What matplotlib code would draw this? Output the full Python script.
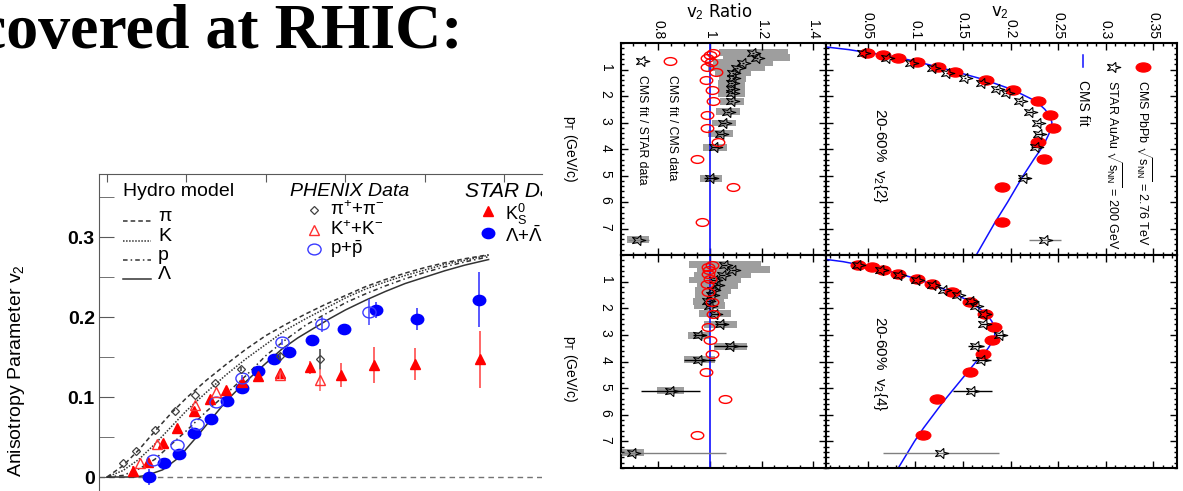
import numpy as np
import matplotlib as mpl
mpl.use('Agg')
import matplotlib.pyplot as plt
from matplotlib.path import Path
from matplotlib.patches import Rectangle
from matplotlib.ticker import MultipleLocator

plt.rcParams['font.family'] = ['Liberation Sans', 'DejaVu Sans']
plt.rcParams['mathtext.fontset'] = 'custom'
plt.rcParams['mathtext.rm'] = 'Liberation Sans'
plt.rcParams['mathtext.it'] = 'Liberation Sans:italic'
plt.rcParams['mathtext.bf'] = 'Liberation Sans:bold'

# ---------------- hydro + RHIC identified particle v2 ----------------
hydro_pt = [0.0, 0.2, 0.4, 0.6, 0.8, 1.0, 1.25, 1.5, 1.75, 2.0, 2.25, 2.5,
            2.75, 3.0, 3.25, 3.5, 3.75, 4.0, 4.25, 4.5, 4.8]
hydro_pi = [0.0, 0.014, 0.034, 0.057, 0.079, 0.099, 0.121, 0.141, 0.160, 0.177,
            0.191, 0.204, 0.216, 0.227, 0.238, 0.247, 0.255, 0.262, 0.268, 0.273, 0.278]
hydro_k = [0.0, 0.008, 0.022, 0.041, 0.062, 0.083, 0.106, 0.128, 0.148, 0.166,
           0.184, 0.198, 0.211, 0.224, 0.235, 0.244, 0.252, 0.259, 0.266, 0.271, 0.2775]
hydro_p = [0.0, 0.002, 0.010, 0.022, 0.040, 0.058, 0.082, 0.104, 0.127, 0.152,
           0.172, 0.190, 0.204, 0.218, 0.229, 0.239, 0.248, 0.256, 0.263, 0.269, 0.2755]
hydro_lam_pt = [0.0, 0.35, 0.5, 0.7, 0.9, 1.1, 1.3, 1.5, 1.7, 1.95, 2.2, 2.4, 2.6,
                2.8, 3.0, 3.25, 3.5, 3.75, 4.0, 4.25, 4.5, 4.8]
hydro_lam = [0.0, 0.0, 0.002, 0.009, 0.024, 0.047, 0.071, 0.095, 0.115, 0.138, 0.160,
             0.174, 0.186, 0.198, 0.209, 0.221, 0.232, 0.242, 0.250, 0.258, 0.265, 0.272]

pi_pt = [0.205, 0.365, 0.608, 0.855, 1.107, 1.358, 1.686, 2.176, 2.68]
pi_v2 = [0.018, 0.0325, 0.0588, 0.0825, 0.103, 0.117, 0.135, 0.151, 0.147]
pi_err = [0, 0, 0, 0, 0, 0, 0.003, 0.004, 0.0135]

kch_pt = [0.415, 0.633, 1.107, 1.365, 2.18, 2.68]
kch_v2 = [0.018, 0.041, 0.090, 0.106, 0.127, 0.121]
kch_err = [0, 0, 0, 0, 0.004, 0.0135]

ppbar_pt = [0.58, 0.876, 1.128, 1.367, 1.70, 2.205, 2.70, 3.30]
ppbar_v2 = [0.021, 0.040, 0.066, 0.094, 0.124, 0.169, 0.191, 0.2067]
ppbar_err = [0, 0, 0, 0, 0.003, 0.004, 0.009, 0.016]

k0s_pt = [0.331, 0.512, 0.709, 0.876, 1.099, 1.296, 1.493, 1.694, 1.895, 2.176,
          2.553, 2.94, 3.36, 3.874, 4.692]
k0s_v2 = [0.008, 0.019, 0.043, 0.061, 0.082, 0.097, 0.109, 0.119, 0.126, 0.130,
          0.137, 0.1275, 0.140, 0.1408, 0.147]
k0s_err = [0.006, 0.003, 0.002, 0.002, 0.002, 0.002, 0.003, 0.003, 0.003, 0.004,
           0.008, 0.015, 0.022, 0.020, 0.036]

lam_pt = [0.528, 0.721, 0.91, 1.099, 1.304, 1.505, 1.694, 1.895, 2.10, 2.293,
          2.575, 2.98, 3.38, 3.896, 4.683]
lam_v2 = [0.0, 0.018, 0.029, 0.0546, 0.0725, 0.0954, 0.111, 0.1325, 0.147, 0.156,
          0.171, 0.1846, 0.209, 0.198, 0.222]
lam_err = [0.010, 0.003, 0.002, 0.002, 0.002, 0.002, 0.002, 0.003, 0.003, 0.004,
           0.005, 0.007, 0.0104, 0.014, 0.034]

# ---------------- CMS vs STAR, 20-60% ----------------
cms_pt = [0.36, 0.45, 0.55, 0.70, 0.90, 1.10, 1.38, 1.76, 2.20, 2.71, 3.21, 3.72,
          4.39, 5.42, 6.75]
cms_v22 = [0.0486, 0.0661, 0.0819, 0.1012, 0.124, 0.1416, 0.1742, 0.2023, 0.2293,
           0.2416, 0.245, 0.229, 0.2353, 0.1907, 0.1907]
cms_v24 = [0.040, 0.054, 0.066, 0.082, 0.102, 0.117, 0.138, 0.157, 0.173, 0.183,
           0.181, 0.171, 0.157, 0.123, 0.108]
cms_ratio22 = [1.010, 1.000, 0.990, 1.003, 0.987, 1.022, 0.984, 1.006, 1.013, 0.987,
               0.990, 1.032, 0.951, 1.088, 0.968]
cms_ratio24 = [1.006, 0.993, 0.997, 0.993, 1.000, 0.990, 0.993, 1.006, 1.010, 0.993,
               1.000, 1.006, 0.984, 1.058, 0.951]

star_pt = [0.37, 0.56, 0.75, 0.94, 1.13, 1.33, 1.52, 1.73, 1.90, 2.20, 2.60, 3.02,
           3.43, 3.93, 5.10, 7.42]
star_v22 = [0.0444, 0.0697, 0.0949, 0.1187, 0.1328, 0.1521, 0.1697, 0.1855, 0.1967,
            0.210, 0.2205, 0.2293, 0.230, 0.2268, 0.2142, 0.2363]
star_v22_err = [0.001, 0.001, 0.001, 0.001, 0.001, 0.001, 0.001, 0.002, 0.002, 0.002,
                0.003, 0.003, 0.004, 0.005, 0.006, 0.017]
star_v24 = [0.0398, 0.0634, 0.083, 0.1019, 0.1181, 0.130, 0.145, 0.158, 0.164, 0.172,
            0.1725, 0.189, 0.1637, 0.1697, 0.160, 0.1265]
star_v24_err = [0.001, 0.001, 0.001, 0.001, 0.002, 0.002, 0.002, 0.002, 0.003, 0.003,
                0.004, 0.005, 0.008, 0.010, 0.021, 0.061]

star_ratio22 = [1.168, 1.181, 1.129, 1.104, 1.091, 1.088, 1.084, 1.084, 1.084, 1.084,
                1.071, 1.054, 1.041, 1.019, 1.003, 0.722]
star_ratio22_stat = [0.004, 0.004, 0.004, 0.004, 0.004, 0.004, 0.005, 0.005, 0.006,
                     0.007, 0.008, 0.010, 0.012, 0.015, 0.025, 0.040]
star_ratio22_sys = [0.133, 0.130, 0.117, 0.110, 0.070, 0.052, 0.052, 0.052, 0.052,
                    0.047, 0.047, 0.047, 0.047, 0.047, 0.043, 0.042]
star_ratio24 = [1.058, 1.091, 1.049, 1.019, 1.028, 1.013, 1.006, 0.993, 1.000, 1.019,
                1.041, 0.958, 1.080, 0.958, 0.847, 0.702]
star_ratio24_stat = [0.010, 0.010, 0.010, 0.010, 0.010, 0.010, 0.012, 0.012, 0.014,
                     0.016, 0.020, 0.025, 0.065, 0.060, 0.113, 0.360]
star_ratio24_sys = [0.140, 0.140, 0.110, 0.100, 0.080, 0.070, 0.065, 0.060, 0.060,
                    0.063, 0.065, 0.042, 0.065, 0.060, 0.054, 0.042]

fit22_pt = [0.15, 0.25, 0.36, 0.45, 0.55, 0.70, 0.90, 1.10, 1.38, 1.76, 2.20, 2.50,
            2.75, 3.00, 3.25, 3.50, 3.72, 4.00, 4.39, 5.00, 5.42, 6.00, 6.75, 7.50, 8.00]
fit22_v2 = [0.006, 0.030, 0.049, 0.066, 0.082, 0.101, 0.123, 0.144, 0.172, 0.202,
            0.227, 0.236, 0.2415, 0.2435, 0.2425, 0.2395, 0.2365, 0.232, 0.2245,
            0.2135, 0.2065, 0.197, 0.184, 0.172, 0.164]
fit24_pt = [0.16, 0.25, 0.36, 0.45, 0.55, 0.70, 0.90, 1.10, 1.38, 1.76, 2.20, 2.50,
            2.75, 3.00, 3.25, 3.50, 3.75, 4.00, 4.39, 5.00, 5.50, 6.00, 6.50, 7.00,
            7.50, 8.00]
fit24_v2 = [0.005, 0.024, 0.040, 0.054, 0.066, 0.082, 0.102, 0.117, 0.137, 0.158,
            0.1745, 0.1805, 0.183, 0.1835, 0.181, 0.1765, 0.171, 0.164, 0.155, 0.141,
            0.1295, 0.119, 0.1085, 0.099, 0.0905, 0.082]

W, H = 1183, 491


def fbox(x0, y0, x1, y1):
    # pixel box measured from the top-left corner -> figure fraction rect
    return [x0 / W, 1 - y1 / H, (x1 - x0) / W, (y1 - y0) / H]


def squash(path, sy):
    return Path(path.vertices * [1.0, sy], path.codes)


circ = Path.unit_circle()
ell_wide = squash(circ, 0.82)
ell_cms = squash(circ, 0.62)
st = Path.unit_regular_star(5, 0.42)
star_mk = Path(np.column_stack([st.vertices[:, 1], -st.vertices[:, 0] * 0.72]), st.codes)

fig = plt.figure(figsize=(W / 100, H / 100), dpi=100)
fig.text(-22 / W, 1 - 48 / H, 'covered at RHIC:', family='Liberation Serif',
         fontweight='bold', fontsize=46, ha='left', va='baseline')

# ================= left: hydro vs data =================
ax = fig.add_axes(fbox(99, 174, 542, 501))
ax.set_xlim(-0.1006, 5.472)
ax.set_ylim(-0.03, 0.379)
ax.axhline(0, color='0.45', lw=1, ls=(0, (4, 3)), zorder=1)

hc = '0.2'
ax.plot(hydro_pt, hydro_pi, color=hc, lw=1.1, ls=(0, (3, 2)))
ax.plot(hydro_pt, hydro_k, color=hc, lw=1.1, ls=(0, (1, 1)))
ax.plot(hydro_pt, hydro_p, color=hc, lw=1.1, ls=(0, (3, 2, 1, 2)))
ax.plot(hydro_lam_pt, hydro_lam, color=hc, lw=1.1, ls='-')

ax.errorbar(k0s_pt, k0s_v2, yerr=k0s_err, fmt='^', ms=7, color='red',
            ecolor='#ff5a5a', elinewidth=1.3, capsize=0, zorder=3)
ax.errorbar(lam_pt, lam_v2, yerr=lam_err, fmt='none', ecolor='#4a4aff',
            elinewidth=1.3, capsize=0, zorder=3)
ax.plot(lam_pt, lam_v2, ls='none', marker=ell_wide, ms=9, color='#0000ff', zorder=3)
ax.errorbar(pi_pt, pi_v2, yerr=pi_err, fmt='D', ms=4.5, mfc='none', mec='0.25',
            mew=0.9, ecolor='0.3', elinewidth=1.2, capsize=0, zorder=4)
ax.errorbar(kch_pt, kch_v2, yerr=kch_err, fmt='^', ms=7, mfc='none', mec='#ff3030',
            mew=1, ecolor='#ff6a6a', elinewidth=1.2, capsize=0, zorder=4)
ax.errorbar(ppbar_pt, ppbar_v2, yerr=ppbar_err, fmt='none', ecolor='#5050ff',
            elinewidth=1.2, capsize=0, zorder=4)
ax.plot(ppbar_pt, ppbar_v2, ls='none', marker=ell_wide, ms=9.5, mfc='none',
        mec='#3a3aff', mew=1, zorder=4)

# legend block, drawn by hand so that it is cut at the panel edge
tA = ax.transAxes
ax.text(0.054, 0.945, 'Hydro model', transform=tA, fontsize=14, va='center', clip_on=True)
ax.text(0.431, 0.945, 'PHENIX Data', transform=tA, fontsize=14, style='italic',
        va='center', clip_on=True)
ax.text(0.826, 0.948, 'STAR Data', transform=tA, fontsize=15, style='italic',
        va='center', clip_on=True)
hydro_keys = [('π', (0, (3, 2)), 0.856), ('K', (0, (1, 1)), 0.795),
              ('p', (0, (3, 2, 1, 2)), 0.737), ('Λ', '-', 0.679)]
for lab, ls, yy in hydro_keys:
    ax.plot([0.054, 0.117], [yy, yy], transform=tA, color=hc, lw=1.1, ls=ls)
    ax.text(0.133, yy, lab, transform=tA, fontsize=14, va='baseline', clip_on=True)
ax.plot([0.485], [0.890], transform=tA, marker='D', ms=4.5, mfc='none', mec='0.25', mew=0.9)
ax.plot([0.485], [0.829], transform=tA, marker='^', ms=7, mfc='none', mec='#ff3030', mew=1)
ax.plot([0.485], [0.771], transform=tA, marker=ell_wide, ms=9.5, mfc='none', mec='#3a3aff', mew=1)
ax.text(0.521, 0.890, 'π$^{+}$+π$^{-}$', transform=tA, fontsize=13.5, va='center', clip_on=True)
ax.text(0.521, 0.829, 'K$^{+}$+K$^{-}$', transform=tA, fontsize=13.5, va='center', clip_on=True)
ax.text(0.521, 0.771, r'p+$\bar{\mathrm{p}}$', transform=tA, fontsize=13.5, va='center', clip_on=True)
ax.plot([0.878], [0.886], transform=tA, marker='^', ms=7, color='red', ls='none')
ax.plot([0.878], [0.820], transform=tA, marker=ell_wide, ms=9, color='#0000ff', ls='none')
ax.text(0.916, 0.876, r'K$^{0}_{\mathrm{S}}$', transform=tA, fontsize=13, va='center', clip_on=True)
ax.text(0.916, 0.812, r'Λ+$\bar{\Lambda}$', transform=tA, fontsize=13.5, va='center', clip_on=True)

for s in ['right', 'bottom']:
    ax.spines[s].set_visible(False)
for s in ['left', 'top']:
    ax.spines[s].set_color('0.35')
ax.xaxis.tick_top()
ax.set_xticks([0, 1, 2, 3, 4, 5])
ax.tick_params(axis='x', direction='in', length=6, color='0.35', labeltop=False)
ax.set_yticks([0, 0.1, 0.2, 0.3], ['0', '0.1', '0.2', '0.3'])
ax.yaxis.set_minor_locator(MultipleLocator(0.05))
ax.tick_params(axis='y', which='both', direction='in', length=11, color='0.35',
               labelsize=14, pad=3)
for t in ax.get_yticklabels():
    t.set_fontweight('bold')
ax.set_ylabel('Anisotropy Parameter v$_{2}$', fontsize=14)
ax.yaxis.set_label_coords(-0.1625, 0.40)

# ================= right: CMS PbPb vs STAR AuAu (rotated layout) =================
axr2 = fig.add_axes(fbox(621, 43, 826, 255))
axv2 = fig.add_axes(fbox(826, 43, 1176.5, 255))
axr4 = fig.add_axes(fbox(621, 255, 826, 468))
axv4 = fig.add_axes(fbox(826, 255, 1176.5, 468))

blue = '#1010ff'


def ratio_panel(a, ratio_cms, ratio_star, stat, sys_):
    for pt, r, s in zip(star_pt, ratio_star, sys_):
        a.add_patch(Rectangle((r - s, pt - 0.13), 2 * s, 0.26, fc='0.62', ec='none', zorder=1))
    a.axvline(1.0, color=blue, lw=1.2, zorder=2)
    cols = ['k'] * (len(star_pt) - 1) + ['0.5']
    a.hlines(star_pt, np.subtract(ratio_star, stat), np.add(ratio_star, stat),
             colors=cols, lw=1, zorder=3)
    a.plot(ratio_star, star_pt, ls='none', marker=star_mk, ms=10.5, mfc='none',
           mec='k', mew=0.8, zorder=4)
    a.plot(ratio_cms, cms_pt, ls='none', marker=ell_cms, ms=9, mfc='none',
           mec='red', mew=1, zorder=4)
    a.set_xlim(0.655, 1.45)
    a.set_xticks([0.8, 1.0, 1.2, 1.4], ['0.8', '1', '1.2', '1.4'])
    a.xaxis.set_minor_locator(MultipleLocator(0.05))


def v2_panel(a, v2_cms, v2_star, err, fit_pt, fit_v2):
    a.plot(fit_v2, fit_pt, color=blue, lw=1.1, zorder=2)
    cols = ['k'] * (len(star_pt) - 1) + ['0.5']
    a.hlines(star_pt, np.subtract(v2_star, err), np.add(v2_star, err),
             colors=cols, lw=1, zorder=3)
    a.plot(v2_cms, cms_pt, ls='none', marker=ell_cms, ms=10.5, color='red', zorder=3)
    a.plot(v2_star, star_pt, ls='none', marker=star_mk, ms=10.5, mfc='none',
           mec='k', mew=0.8, zorder=4)
    a.set_xlim(0.006, 0.3745)
    a.set_xticks([0.05, 0.1, 0.15, 0.2, 0.25, 0.3, 0.35],
                 ['0.05', '0.1', '0.15', '0.2', '0.25', '0.3', '0.35'])
    a.xaxis.set_minor_locator(MultipleLocator(0.01))


ratio_panel(axr2, cms_ratio22, star_ratio22, star_ratio22_stat, star_ratio22_sys)
ratio_panel(axr4, cms_ratio24, star_ratio24, star_ratio24_stat, star_ratio24_sys)
v2_panel(axv2, cms_v22, star_v22, star_v22_err, fit22_pt, fit22_v2)
v2_panel(axv4, cms_v24, star_v24, star_v24_err, fit24_pt, fit24_v2)

for a in [axr2, axv2, axr4, axv4]:
    a.set_ylim(8, 0)
    a.set_yticks([1, 2, 3, 4, 5, 6, 7])
    a.yaxis.set_minor_locator(MultipleLocator(0.2))
    for s in a.spines.values():
        s.set_linewidth(1.5)
    a.tick_params(which='both', direction='in', top=True, bottom=True, left=True,
                  right=True, labelbottom=False, labeltop=False, labelleft=False,
                  width=1)
    a.tick_params(which='major', length=5)
    a.tick_params(which='minor', length=2.5)
    a.tick_params(axis='x', labelrotation=270, labelsize=10, pad=3)
    a.tick_params(axis='y', labelrotation=270, labelsize=10, pad=6)

for a in [axr2, axv2]:
    a.tick_params(axis='x', labeltop=True)
for a in [axr2, axr4]:
    a.tick_params(axis='y', labelleft=True)

axr2.xaxis.set_label_position('top')
axr2.set_xlabel('v$_{2}$ Ratio', fontsize=12, family='DejaVu Sans', va='center')
axr2.xaxis.set_label_coords(0.48, 1.146)
axv2.xaxis.set_label_position('top')
axv2.set_xlabel('v$_{2}$', fontsize=12, family='DejaVu Sans', va='center')
axv2.xaxis.set_label_coords(0.496, 1.146)

axr2.set_ylabel(r'p$_{\mathrm{T}}$ (GeV/c)', fontsize=10, rotation=270, va='center')
axr2.yaxis.set_label_coords(-0.249, 0.50)
axr4.set_ylabel(r'p$_{\mathrm{T}}$ (GeV/c)', fontsize=10, rotation=270, va='center')
axr4.yaxis.set_label_coords(-0.249, 0.467)

txt = dict(rotation=270, rotation_mode='anchor', ha='left', va='center', fontsize=9)
axv2.text(0.154, 0.467, '20-60%  v$_{2}${2}', transform=axv2.transAxes,
          rotation=270, ha='center', va='center', fontsize=11)
axv4.text(0.154, 0.488, '20-60%  v$_{2}${4}', transform=axv4.transAxes,
          rotation=270, ha='center', va='center', fontsize=11)

tV = axv2.transAxes
axv2.plot([0.904], [0.888], transform=tV, marker=ell_cms, ms=10.5, color='red')
axv2.plot([0.819], [0.888], transform=tV, marker=star_mk, ms=10.5, mfc='none', mec='k', mew=0.8)
axv2.plot([0.733, 0.733], [0.943, 0.887], transform=tV, color=blue, lw=1.1)
axv2.text(0.904, 0.825, r'CMS PbPb $\sqrt{\mathrm{s}_{\mathrm{NN}}}$ = 2.76 TeV', transform=tV, **txt)
axv2.text(0.819, 0.825, r'STAR AuAu $\sqrt{\mathrm{s}_{\mathrm{NN}}}$ = 200 GeV', transform=tV, **txt)
axv2.text(0.733, 0.825, 'CMS fit', transform=tV, **dict(txt, fontsize=10))

tR = axr2.transAxes
axr2.plot([0.239], [0.915], transform=tR, marker=ell_cms, ms=9, mfc='none', mec='red', mew=1)
axr2.plot([0.102], [0.915], transform=tR, marker=star_mk, ms=10.5, mfc='none', mec='k', mew=0.8)
txt_s = dict(txt, fontsize=8.8)
axr2.text(0.249, 0.849, 'CMS fit / CMS data', transform=tR, **txt_s)
axr2.text(0.102, 0.849, 'CMS fit / STAR data', transform=tR, **txt_s)

fig.savefig('out.png', dpi=100)
